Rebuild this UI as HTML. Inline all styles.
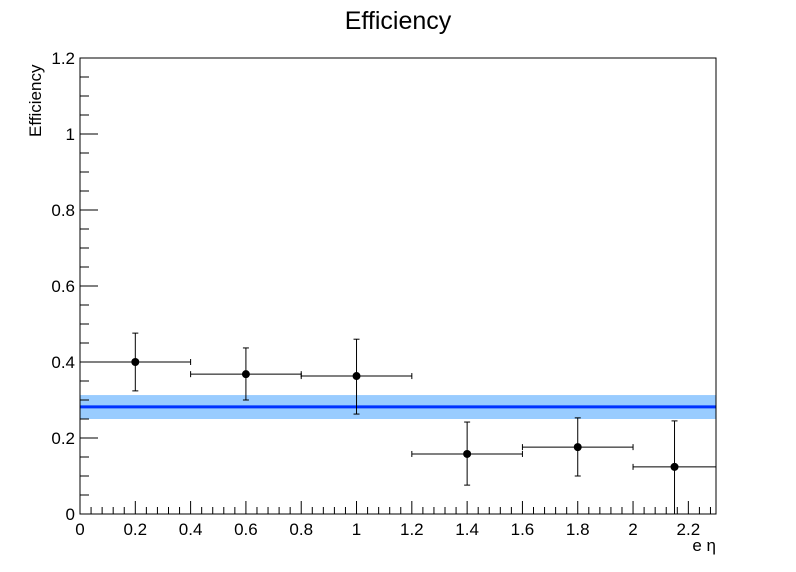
<!DOCTYPE html>
<html><head><meta charset="utf-8"><style>
html,body{margin:0;padding:0;background:#fff;}
svg{display:block;font-family:"Liberation Sans",sans-serif;}
</style></head><body>
<svg id="c" width="796" height="572">
<text x="398" y="29" font-size="25" text-anchor="middle">Efficiency</text>
<text transform="translate(41,137) rotate(-90)" font-size="17">Efficiency</text>
<text x="716" y="551" font-size="17" text-anchor="end">e η</text>
<g id="band"></g>
<g id="axes"></g>
<g id="pts"></g>
</svg>
<script>
const xCenters=[0.2,0.6,1.0,1.4,1.8,2.15];
const xLow=[0.0,0.4,0.8,1.2,1.6,2.0];
const xHigh=[0.4,0.8,1.2,1.6,2.0,2.3];
const effValues=[0.400,0.368,0.363,0.158,0.176,0.124];
const errUp=[0.476,0.437,0.460,0.242,0.253,0.245];
const errDown=[0.324,0.300,0.263,0.076,0.100,0.0];
const fitValue=0.282, fitHigh=0.313, fitLow=0.250;
const xTicks=[0,0.2,0.4,0.6,0.8,1,1.2,1.4,1.6,1.8,2,2.2];
const yTicks=[0,0.2,0.4,0.6,0.8,1,1.2];
const L=80,R=716,T=58,B=514,XMAX=2.3,YMAX=1.2;
const X=v=>L+v/XMAX*(R-L), Y=v=>B-v/YMAX*(B-T);
const NS="http://www.w3.org/2000/svg";
function mk(p,tag,a){const e=document.createElementNS(NS,tag);for(const k in a)e.setAttribute(k,a[k]);p.appendChild(e);return e;}
const band=document.getElementById('band'),ax=document.getElementById('axes'),pts=document.getElementById('pts');
let r=mk(band,'rect',{x:L,y:Y(fitHigh),width:R-L,height:Y(fitLow)-Y(fitHigh),fill:'#99ccff'});


let fl=mk(band,'line',{x1:L,x2:R,y1:Y(fitValue),y2:Y(fitValue),stroke:'#0033ff','stroke-width':3});


let fr=mk(ax,'rect',{x:L,y:T,width:R-L,height:B-T,fill:'none',stroke:'#000','stroke-width':1});


for(let v=0;v<=XMAX+1e-9;v+=0.04){const maj=Math.abs(v/0.2-Math.round(v/0.2))<1e-6;mk(ax,'line',{x1:X(v),x2:X(v),y1:B,y2:B-(maj?13:7),stroke:'#000'});}
for(let v=0;v<=YMAX+1e-9;v+=0.05){const maj=Math.abs(v/0.2-Math.round(v/0.2))<1e-6;mk(ax,'line',{x1:L,x2:L+(maj?18:9),y1:Y(v),y2:Y(v),stroke:'#000'});}
xTicks.forEach(v=>{const t=mk(ax,'text',{x:X(v),y:B+21,'font-size':17,'text-anchor':'middle'});t.textContent=String(v);

});
yTicks.forEach(v=>{const t=mk(ax,'text',{x:L-5,y:Y(v)+6,'font-size':17,'text-anchor':'end'});t.textContent=String(v);

});
xCenters.forEach((c,i)=>{
 const g=mk(pts,'g',{stroke:'#000','stroke-width':1});
 
 
 const y=Y(effValues[i]);
 mk(g,'line',{x1:X(xLow[i]),x2:X(xHigh[i]),y1:y,y2:y});
 mk(g,'line',{x1:X(c),x2:X(c),y1:Y(errUp[i]),y2:Y(errDown[i])});
 [xLow[i],xHigh[i]].forEach(xx=>mk(g,'line',{x1:X(xx),x2:X(xx),y1:y-3,y2:y+3}));
 [errUp[i],errDown[i]].forEach(yy=>mk(g,'line',{x1:X(c)-3,x2:X(c)+3,y1:Y(yy),y2:Y(yy)}));
 mk(g,'circle',{cx:X(c),cy:y,r:4,fill:'#000',stroke:'none'});
});
</script>
</body></html>
